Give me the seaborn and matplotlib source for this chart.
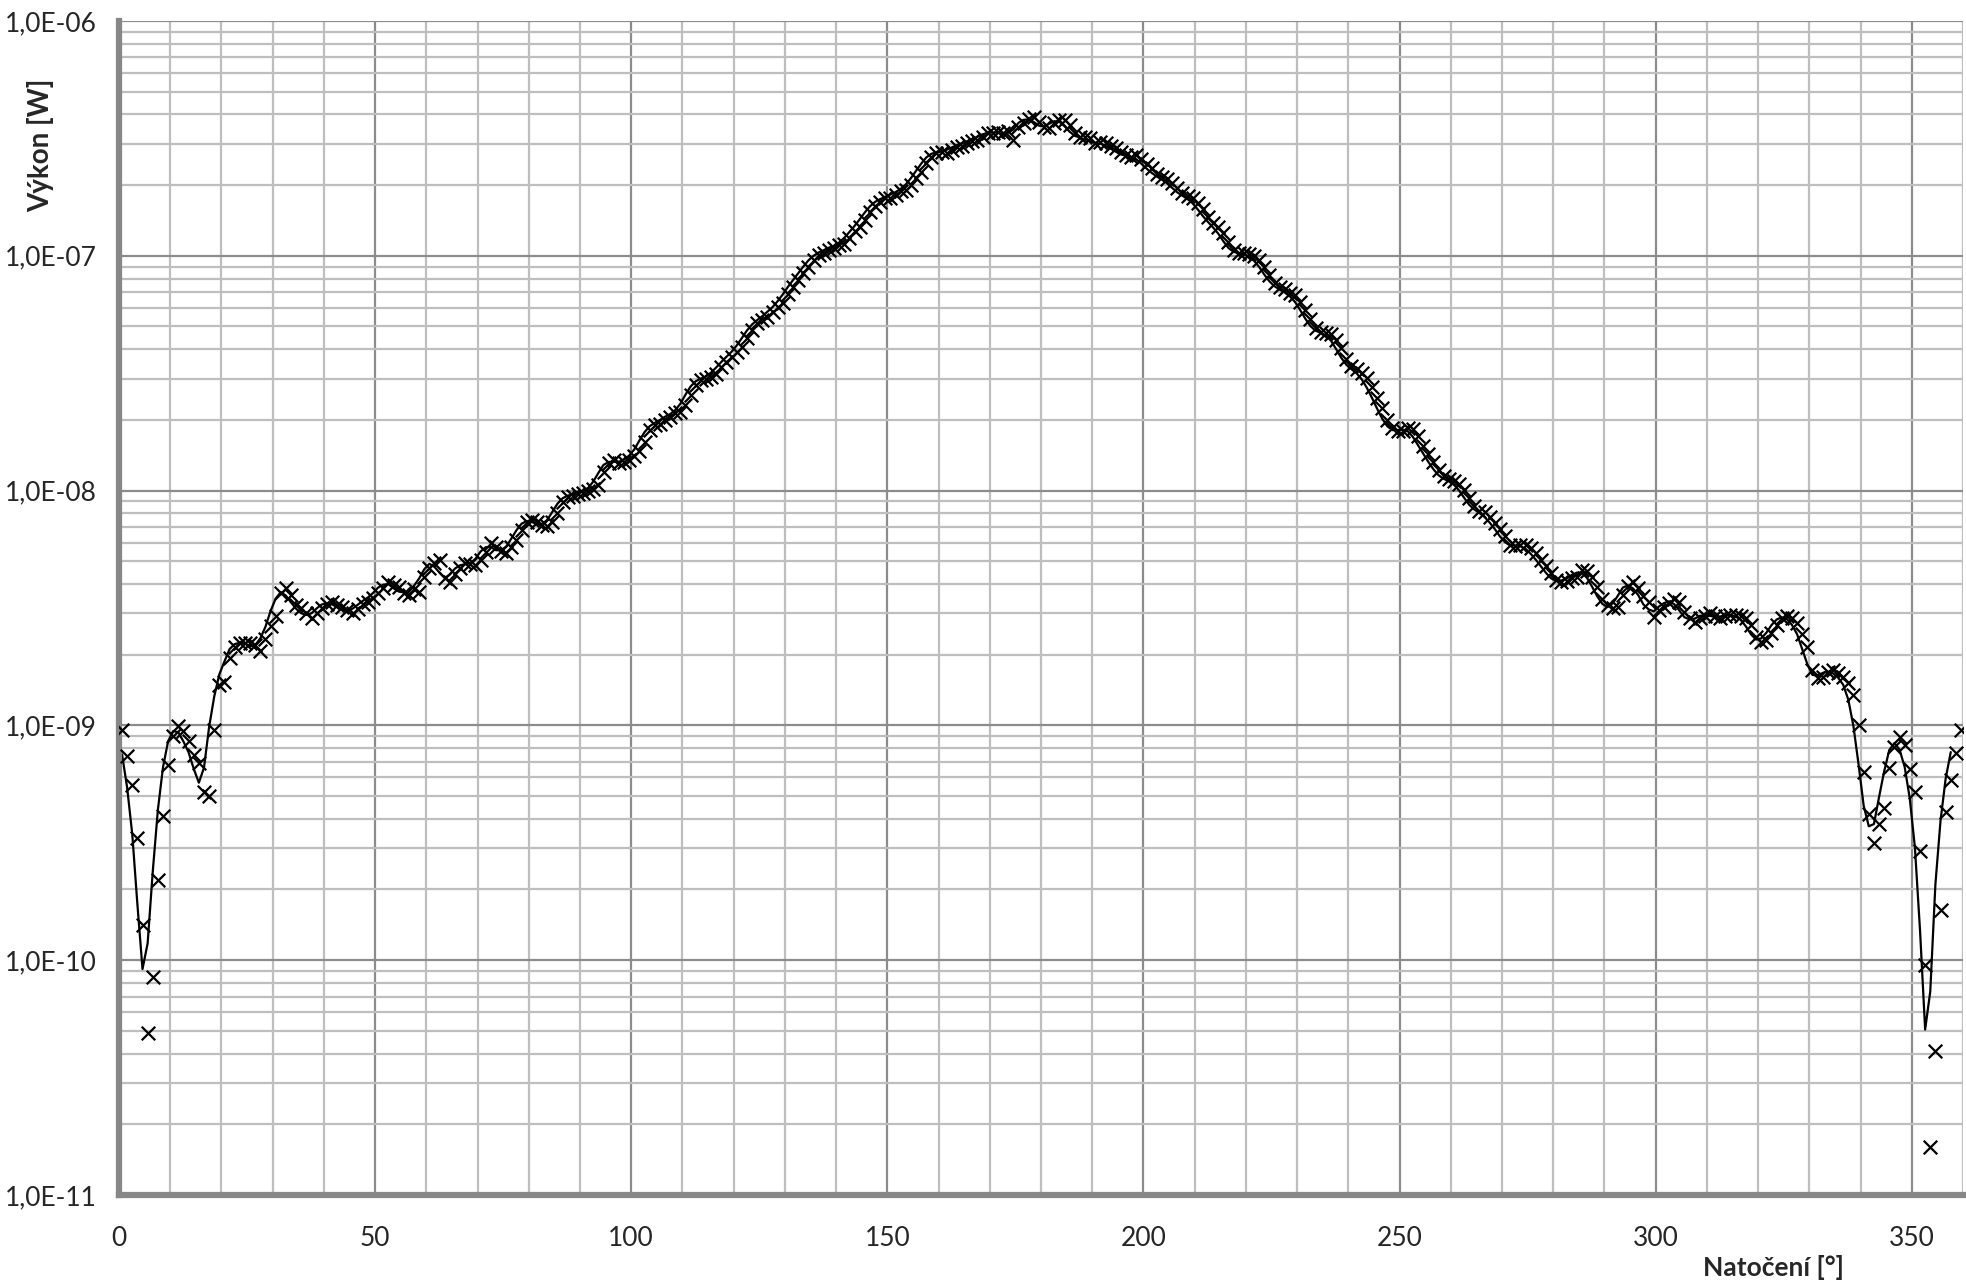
import numpy as np
import pandas as pd
import matplotlib
matplotlib.use("Agg")
import matplotlib.pyplot as plt
import matplotlib.ticker as mticker
import seaborn as sns

# natoceni po 1 stupni (prvni bod lezi u 0,6 st.)
uhel = np.arange(0.6, 360, 1.0)

# namereny vykon [W], po deseti hodnotach
vykon = [
    9.6e-10, 7.4e-10, 5.6e-10, 3.3e-10, 1.41e-10, 4.9e-11, 8.5e-11, 2.2e-10, 4.1e-10, 6.8e-10,
    9.0e-10, 9.9e-10, 9.5e-10, 8.6e-10, 7.5e-10, 6.9e-10, 5.2e-10, 5.0e-10, 9.6e-10, 1.49e-9,
    1.53e-9, 1.93e-9, 2.16e-9, 2.25e-9, 2.25e-9, 2.25e-9, 2.2e-9, 2.07e-9, 2.33e-9, 2.64e-9,
    2.92e-9, 3.65e-9, 3.84e-9, 3.6e-9, 3.26e-9, 3.15e-9, 3.0e-9, 2.86e-9, 3.0e-9, 3.15e-9,
    3.3e-9, 3.37e-9, 3.26e-9, 3.2e-9, 3.1e-9, 3.0e-9, 3.12e-9, 3.3e-9, 3.37e-9, 3.5e-9,
    3.65e-9, 3.84e-9, 4.1e-9, 3.98e-9, 3.9e-9, 3.65e-9, 3.6e-9, 3.8e-9, 3.7e-9, 4.3e-9,
    4.67e-9, 4.9e-9, 5.07e-9, 4.23e-9, 4.1e-9, 4.4e-9, 4.67e-9, 4.9e-9, 4.85e-9, 4.82e-9,
    5.06e-9, 5.49e-9, 5.96e-9, 5.77e-9, 5.55e-9, 5.4e-9, 5.77e-9, 6.16e-9, 6.8e-9, 7.38e-9,
    7.5e-9, 7.38e-9, 7.15e-9, 7.1e-9, 7.38e-9, 8.0e-9, 8.97e-9, 9.4e-9, 9.45e-9, 9.7e-9,
    9.75e-9, 1.0e-8, 1.02e-8, 1.06e-8, 1.2e-8, 1.31e-8, 1.35e-8, 1.31e-8, 1.32e-8, 1.35e-8,
    1.4e-8, 1.48e-8, 1.61e-8, 1.81e-8, 1.9e-8, 1.93e-8, 2.0e-8, 2.06e-8, 2.13e-8, 2.16e-8,
    2.32e-8, 2.55e-8, 2.82e-8, 2.96e-8, 2.99e-8, 3.05e-8, 3.15e-8, 3.35e-8, 3.54e-8, 3.71e-8,
    3.9e-8, 4.1e-8, 4.45e-8, 4.83e-8, 5.15e-8, 5.33e-8, 5.5e-8, 5.78e-8, 6.07e-8, 6.3e-8,
    6.87e-8, 7.38e-8, 7.88e-8, 8.41e-8, 8.99e-8, 9.6e-8, 1.01e-7, 1.03e-7, 1.06e-7, 1.08e-7,
    1.11e-7, 1.12e-7, 1.19e-7, 1.27e-7, 1.33e-7, 1.42e-7, 1.54e-7, 1.63e-7, 1.7e-7, 1.76e-7,
    1.77e-7, 1.82e-7, 1.88e-7, 1.9e-7, 2.0e-7, 2.14e-7, 2.28e-7, 2.48e-7, 2.64e-7, 2.75e-7,
    2.77e-7, 2.75e-7, 2.82e-7, 2.92e-7, 2.95e-7, 3.01e-7, 3.09e-7, 3.12e-7, 3.21e-7, 3.32e-7,
    3.34e-7, 3.38e-7, 3.32e-7, 3.39e-7, 3.11e-7, 3.55e-7, 3.69e-7, 3.81e-7, 3.89e-7, 3.73e-7,
    3.52e-7, 3.5e-7, 3.67e-7, 3.79e-7, 3.77e-7, 3.6e-7, 3.32e-7, 3.21e-7, 3.2e-7, 3.16e-7,
    3.01e-7, 3.06e-7, 3.01e-7, 2.94e-7, 2.87e-7, 2.78e-7, 2.69e-7, 2.64e-7, 2.69e-7, 2.58e-7,
    2.46e-7, 2.36e-7, 2.24e-7, 2.17e-7, 2.12e-7, 2.05e-7, 1.94e-7, 1.85e-7, 1.8e-7, 1.76e-7,
    1.68e-7, 1.58e-7, 1.47e-7, 1.38e-7, 1.33e-7, 1.25e-7, 1.15e-7, 1.06e-7, 1.03e-7, 1.03e-7,
    1.02e-7, 9.97e-8, 9.6e-8, 8.99e-8, 8.28e-8, 7.68e-8, 7.38e-8, 7.19e-8, 6.96e-8, 6.8e-8,
    6.38e-8, 5.88e-8, 5.36e-8, 4.95e-8, 4.75e-8, 4.7e-8, 4.65e-8, 4.38e-8, 4.03e-8, 3.62e-8,
    3.4e-8, 3.29e-8, 3.18e-8, 3.01e-8, 2.75e-8, 2.47e-8, 2.24e-8, 2.0e-8, 1.84e-8, 1.8e-8,
    1.79e-8, 1.84e-8, 1.83e-8, 1.7e-8, 1.55e-8, 1.43e-8, 1.33e-8, 1.22e-8, 1.15e-8, 1.12e-8,
    1.1e-8, 1.07e-8, 1.01e-8, 9.27e-9, 8.6e-9, 8.22e-9, 8.1e-9, 7.75e-9, 7.3e-9, 6.85e-9,
    6.41e-9, 5.87e-9, 5.8e-9, 5.84e-9, 5.87e-9, 5.68e-9, 5.4e-9, 5.06e-9, 4.77e-9, 4.44e-9,
    4.16e-9, 4.08e-9, 4.12e-9, 4.23e-9, 4.3e-9, 4.58e-9, 4.53e-9, 4.3e-9, 3.9e-9, 3.47e-9,
    3.25e-9, 3.15e-9, 3.18e-9, 3.59e-9, 3.92e-9, 4.09e-9, 3.83e-9, 3.56e-9, 3.36e-9, 2.9e-9,
    3.1e-9, 3.18e-9, 3.33e-9, 3.44e-9, 3.36e-9, 3.05e-9, 2.86e-9, 2.76e-9, 2.86e-9, 2.92e-9,
    3.0e-9, 2.92e-9, 2.86e-9, 2.92e-9, 2.95e-9, 2.95e-9, 2.92e-9, 2.86e-9, 2.67e-9, 2.39e-9,
    2.27e-9, 2.3e-9, 2.47e-9, 2.67e-9, 2.88e-9, 2.92e-9, 2.86e-9, 2.73e-9, 2.45e-9, 2.16e-9,
    1.72e-9, 1.59e-9, 1.61e-9, 1.69e-9, 1.72e-9, 1.67e-9, 1.61e-9, 1.51e-9, 1.35e-9, 1.0e-9,
    6.3e-10, 4.19e-10, 3.14e-10, 3.82e-10, 4.44e-10, 6.58e-10, 8.09e-10, 8.88e-10, 8.24e-10, 6.53e-10,
    5.21e-10, 2.91e-10, 9.5e-11, 1.6e-11, 4.09e-11, 1.64e-10, 4.26e-10, 5.87e-10, 7.64e-10, 9.57e-10,
]

df = pd.DataFrame({"uhel": uhel, "vykon": vykon})
# klouzavy prumer ze 3 bodu (jako spojnice trendu v Excelu, data od 360 dolu)
df["trend"] = df["vykon"].rolling(3).mean().shift(-2)

sns.set_style("white")
plt.rcParams["font.family"] = ["Lato", "DejaVu Sans"]

fig = plt.figure(figsize=(19.66, 12.82), dpi=100)
ax = fig.add_axes([0.0605, 0.0679, 0.938, 0.9157])

sns.lineplot(data=df, x="uhel", y="trend", color="black", linewidth=1.6, ax=ax)
sns.scatterplot(data=df, x="uhel", y="vykon", marker="x", color="black",
                s=95, linewidth=1.6, ax=ax, zorder=3)

ax.set_yscale("log")
ax.set_xlim(0, 360)
ax.set_ylim(1e-11, 1e-6)

ax.xaxis.set_major_locator(mticker.MultipleLocator(50))
ax.xaxis.set_minor_locator(mticker.MultipleLocator(10))
ax.yaxis.set_major_locator(mticker.LogLocator(base=10, numticks=10))
ax.yaxis.set_minor_locator(mticker.LogLocator(base=10, subs=np.arange(2, 10), numticks=20))
ax.yaxis.set_minor_formatter(mticker.NullFormatter())
ax.yaxis.set_major_formatter(
    mticker.FuncFormatter(lambda v, p: "{:.1E}".format(v).replace(".", ",")))

ax.grid(which="minor", color="#bebebe", linewidth=1.6)
ax.grid(which="major", color="#8c8c8c", linewidth=1.6)
ax.set_axisbelow(True)

for s in ["top", "right"]:
    ax.spines[s].set_visible(False)
for s in ["left", "bottom"]:
    ax.spines[s].set_color("#878787")
    ax.spines[s].set_linewidth(4.5)

ax.tick_params(which="both", length=0)
ax.tick_params(axis="x", labelsize=19, pad=22)
ax.tick_params(axis="y", labelsize=19, pad=16)

ax.set_xlabel("")
ax.set_ylabel("")
fig.text(0.0205, 0.887, "Výkon [W]", rotation=90, fontsize=20, fontweight="bold",
         ha="center", va="center")
fig.text(0.902, 0.0115, "Natočení [°]", fontsize=19, fontweight="bold",
         ha="center", va="center")

fig.savefig("out.png", dpi=100)
